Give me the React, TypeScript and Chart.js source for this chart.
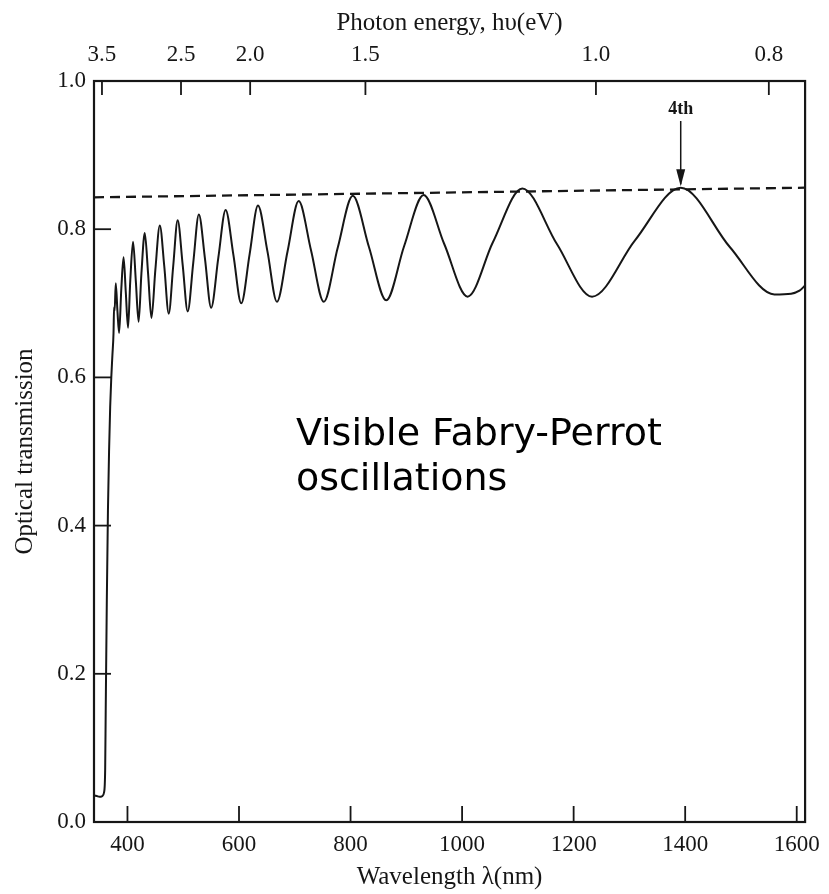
import React, { useEffect, useRef } from "react";
import { Chart, registerables } from "chart.js";

Chart.register(...registerables);

// Measured transmission spectrum (wavelength in nm, optical transmission)
const wavelengthNm = [
  340, 345, 350, 355, 358, 360, 361, 363, 365, 367, 369, 371, 373, 375, 376, 377,
  379, 382, 385, 389, 393, 397, 401, 405, 410, 415, 420, 425, 431, 437, 443, 450,
  458, 466, 474, 482, 490, 499, 508, 518, 528, 539, 550, 563, 576, 590, 604, 619,
  634, 651, 668, 687, 707, 729, 752, 777, 804, 833, 864, 896, 931, 968, 1010, 1055,
  1108, 1170, 1233, 1310, 1392, 1480, 1560, 1590, 1605, 1615,
];
const transmission = [
  0.036, 0.035, 0.034, 0.035, 0.04, 0.07, 0.15, 0.3, 0.42, 0.5, 0.56, 0.6, 0.63, 0.66, 0.695, 0.69,
  0.727, 0.69, 0.66, 0.72, 0.762, 0.715, 0.667, 0.73, 0.783, 0.73, 0.675, 0.74, 0.795, 0.74, 0.68, 0.745,
  0.805, 0.75, 0.686, 0.75, 0.812, 0.752, 0.689, 0.755, 0.82, 0.76, 0.694, 0.762, 0.826, 0.765, 0.7, 0.766,
  0.832, 0.77, 0.702, 0.77, 0.838, 0.772, 0.702, 0.775, 0.845, 0.776, 0.704, 0.777, 0.846, 0.78, 0.709, 0.782,
  0.855, 0.78, 0.709, 0.785, 0.856, 0.776, 0.712, 0.713, 0.717, 0.724,
];
// Dashed envelope (maxima)
const envelopeNm = [340, 1615];
const envelopeT = [0.843, 0.856];

const xTicksNm = [400, 600, 800, 1000, 1200, 1400, 1600];
const yTicks = [0, 0.2, 0.4, 0.6, 0.8, 1.0];
const photonEnergyEv = [3.5, 2.5, 2.0, 1.5, 1.0, 0.8];
const HC = 1240; // eV·nm

const annotationOrderNm = 1392;
const annotationOrderLabel = "4th";
const noteLines = ["Visible Fabry-Perrot", "oscillations"];

const SERIF = "'Liberation Serif', 'DejaVu Serif', serif";
const INK = "#161616";

export default function App() {
  const ref = useRef<HTMLCanvasElement>(null);

  useEffect(() => {
    document.body.style.margin = "0";
    const canvas = ref.current;
    if (!canvas) return;

    const framePlugin = {
      id: "frameAndNotes",
      afterDraw(chart: any) {
        const { ctx, chartArea: a, scales } = chart;
        const line = (x1: number, y1: number, x2: number, y2: number) => {
          ctx.beginPath();
          ctx.moveTo(x1, y1);
          ctx.lineTo(x2, y2);
          ctx.stroke();
        };
        ctx.save();
        ctx.strokeStyle = INK;
        ctx.lineWidth = 2.2;
        ctx.strokeRect(a.left, a.top, a.right - a.left, a.bottom - a.top);
        ctx.lineWidth = 1.8;
        xTicksNm.forEach((v) => {
          const px = scales.x.getPixelForValue(v);
          line(px, a.bottom, px, a.bottom - 16);
        });
        yTicks.forEach((v) => {
          const py = scales.y.getPixelForValue(v);
          line(a.left, py, a.left + 17, py);
        });
        photonEnergyEv.forEach((e) => {
          const px = scales.x2.getPixelForValue(HC / e);
          line(px, a.top, px, a.top + 14);
        });

        // "4th" order arrow
        const ax = scales.x.getPixelForValue(annotationOrderNm);
        const yTop = scales.y.getPixelForValue(0.946);
        const yTip = scales.y.getPixelForValue(0.858);
        ctx.lineWidth = 1.5;
        line(ax, yTop, ax, yTip - 2);
        ctx.fillStyle = INK;
        ctx.beginPath();
        ctx.moveTo(ax, yTip);
        ctx.lineTo(ax - 4.5, yTip - 17);
        ctx.lineTo(ax + 4.5, yTip - 17);
        ctx.closePath();
        ctx.fill();
        ctx.font = `bold 18px ${SERIF}`;
        ctx.textAlign = "center";
        ctx.textBaseline = "middle";
        ctx.fillText(annotationOrderLabel, ax, scales.y.getPixelForValue(0.962));

        // note text
        ctx.font = "38px 'DejaVu Sans', sans-serif";
        ctx.textAlign = "left";
        ctx.fillStyle = "#000";
        const nx = scales.x.getPixelForValue(702);
        ctx.fillText(noteLines[0], nx, scales.y.getPixelForValue(0.522));
        ctx.fillText(noteLines[1], nx, scales.y.getPixelForValue(0.461));
        ctx.restore();
      },
    };

    const tickFont = { family: SERIF, size: 23 };
    const titleFont = { family: SERIF, size: 25 };

    const chart = new Chart(canvas, {
      type: "line",
      data: {
        datasets: [
          {
            label: "Transmission",
            data: wavelengthNm.map((x, i) => ({ x, y: transmission[i] })),
            borderColor: INK,
            borderWidth: 2,
            pointRadius: 0,
            cubicInterpolationMode: "monotone",
            xAxisID: "x",
            yAxisID: "y",
          },
          {
            label: "Envelope",
            data: envelopeNm.map((x, i) => ({ x, y: envelopeT[i] })),
            borderColor: INK,
            borderWidth: 2.3,
            borderDash: [10, 6],
            pointRadius: 0,
            xAxisID: "x",
            yAxisID: "y",
          },
        ],
      },
      options: {
        responsive: false,
        animation: false,
        layout: { padding: { left: 0, right: 20, top: 0, bottom: 0 } },
        plugins: { legend: { display: false }, tooltip: { enabled: false } },
        scales: {
          x: {
            type: "linear",
            position: "bottom",
            min: 340,
            max: 1615,
            afterBuildTicks: (s: any) => {
              s.ticks = xTicksNm.map((value) => ({ value }));
            },
            ticks: {
              color: INK,
              font: tickFont,
              padding: 9,
              maxRotation: 0,
              autoSkip: false,
              callback: (v: any) => String(v),
            },
            grid: { display: false, drawTicks: false },
            border: { display: false },
            title: {
              display: true,
              text: "Wavelength λ(nm)",
              color: INK,
              font: titleFont,
              padding: { top: 0, bottom: 2 },
            },
            afterFit: (s: any) => {
              s.height = 72;
            },
          },
          x2: {
            type: "linear",
            position: "top",
            min: 340,
            max: 1615,
            afterBuildTicks: (s: any) => {
              s.ticks = photonEnergyEv.map((e) => ({ value: HC / e }));
            },
            ticks: {
              color: INK,
              font: tickFont,
              padding: 12,
              maxRotation: 0,
              autoSkip: false,
              callback: (v: any) => {
                const e = photonEnergyEv.find((en) => Math.abs(HC / en - v) < 0.01);
                return e !== undefined ? e.toFixed(1) : "";
              },
            },
            grid: { display: false, drawTicks: false },
            border: { display: false },
            title: {
              display: true,
              text: "Photon energy, hυ(eV)",
              color: INK,
              font: titleFont,
              padding: { top: 8, bottom: 0 },
            },
            afterFit: (s: any) => {
              s.height = 81;
            },
          },
          y: {
            type: "linear",
            min: 0,
            max: 1,
            afterBuildTicks: (s: any) => {
              s.ticks = yTicks.map((value) => ({ value }));
            },
            ticks: {
              color: INK,
              font: tickFont,
              padding: 8,
              callback: (v: any) => Number(v).toFixed(1),
            },
            grid: { display: false, drawTicks: false },
            border: { display: false },
            title: {
              display: true,
              text: "Optical transmission",
              color: INK,
              font: titleFont,
              padding: { top: 10, bottom: 0 },
            },
            afterFit: (s: any) => {
              s.width = 94;
            },
          },
        },
      },
      plugins: [framePlugin],
    } as any);

    return () => chart.destroy();
  }, []);

  return <canvas ref={ref} width={829} height={894} style={{ display: "block" }} />;
}
